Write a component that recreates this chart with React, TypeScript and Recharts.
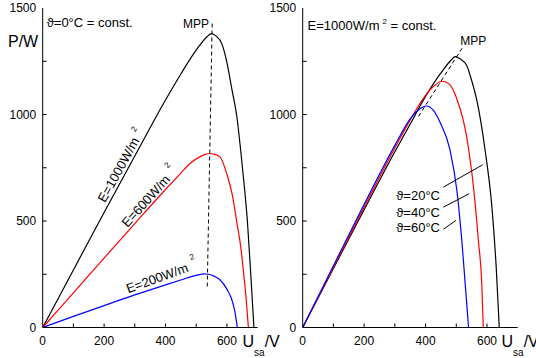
import React from 'react';
import { LineChart, Line, XAxis, YAxis, ReferenceLine, ReferenceDot } from 'recharts';

const FONT = '"Liberation Sans", Arial, Helvetica, sans-serif';

// axis ticks
const xTicks = [0, 100, 200, 300, 400, 500, 600, 700];
const yTicks = [0, 250, 500, 750, 1000, 1250, 1500];

// left panel: cell temperature 0°C, irradiance varies (U in V, P in W)
const uE1000 = [0, 100, 200, 300, 400, 450, 480, 510, 535, 550, 565, 583, 600, 616, 632, 651, 667, 678, 688];
const pE1000 = [0, 270, 540, 805, 1068, 1190, 1260, 1322, 1365, 1380, 1368, 1334, 1245, 1120, 994, 744, 494, 244, 0];
const uE600 = [0, 100, 200, 300, 400, 450, 480, 510, 530, 545, 560, 578, 600, 618, 632, 645, 654, 663, 670];
const pE600 = [0, 163, 326, 488, 648, 725, 770, 800, 813, 817, 813, 800, 720, 620, 497, 380, 262, 130, 0];
const uE200 = [0, 100, 200, 300, 400, 450, 490, 510, 523, 540, 560, 578, 600, 615, 626, 634];
const pE200 = [0, 52, 103, 153, 200, 223, 241, 248, 252, 250, 240, 223, 180, 135, 75, 0];
const mppLeftU = [552, 536];
const mppLeftP = [1427, 188];

// right panel: irradiance 1000 W/m², temperature varies
const uT20 = [0, 100, 200, 300, 350, 400, 450, 480, 496, 512, 534, 550, 567, 594, 616, 630, 640];
const pT20 = [0, 277, 553, 825, 955, 1085, 1195, 1250, 1272, 1262, 1230, 1160, 1066, 831, 566, 284, 0];
const uT40 = [0, 100, 200, 300, 350, 400, 430, 453, 475, 502, 534, 556, 572, 583, 588];
const pT40 = [0, 283, 565, 843, 975, 1090, 1137, 1156, 1145, 1073, 894, 659, 409, 206, 0];
const uT60 = [0, 100, 200, 300, 350, 380, 402, 425, 447, 480, 502, 518, 529, 540];
const pT60 = [0, 290, 578, 855, 980, 1025, 1040, 1020, 964, 831, 644, 409, 206, 0];
const mppRightU = [377, 521];
const mppRightP = [991, 1316];

const irrLabels = ['E=1000W/m', 'E=600W/m', 'E=200W/m'];
const tempLabels = ['ϑ=20°C', 'ϑ=40°C', 'ϑ=60°C'];

const zip = (u: number[], p: number[]) => u.map((v, i) => ({ v, p: p[i] }));
const seg = (u: number[], p: number[]) => [{ x: u[0], y: p[0] }, { x: u[1], y: p[1] }];

const BottomTick = (p: any) => {
  const v = p.payload.value;
  return (
    <g>
      {v > 0 && v < 700 && <line x1={p.x} x2={p.x} y1={p.y} y2={p.y - 4} stroke="#000" />}
      {v % 200 === 0 && (
        <text x={p.x} y={p.y + 17} textAnchor="middle" fontSize={12} fontFamily={FONT} fill="#000">{v}</text>
      )}
    </g>
  );
};
const TopTick = (p: any) => {
  const v = p.payload.value;
  return v > 0 && v < 700 ? <line x1={p.x} x2={p.x} y1={p.y} y2={p.y + 4} stroke="#000" /> : <g />;
};
const LeftTick = (p: any) => {
  const v = p.payload.value;
  return (
    <g>
      {v > 0 && v < 1500 && <line x1={p.x} x2={p.x + 4} y1={p.y} y2={p.y} stroke="#000" />}
      {v % 500 === 0 && (
        <text x={p.x - 6.5} y={p.y + 4.3} textAnchor="end" fontSize={12} fontFamily={FONT} fill="#000">{v}</text>
      )}
    </g>
  );
};
const RightTick = (p: any) => {
  const v = p.payload.value;
  return v > 0 && v < 1500 ? <line x1={p.x} x2={p.x - 4} y1={p.y} y2={p.y} stroke="#000" /> : <g />;
};

// text placed at a data point, optional rotation
const note = (txt: React.ReactNode, opts: { size?: number; anchor?: string; rot?: number; mid?: boolean } = {}) =>
  (p: any) => {
    const { cx, cy } = p;
    return (
      <text
        x={cx}
        y={cy}
        fontSize={opts.size ?? 13}
        fontFamily={FONT}
        fill="#000"
        textAnchor={opts.anchor ?? 'start'}
        dominantBaseline={opts.mid ? 'central' : undefined}
        transform={opts.rot ? `rotate(${opts.rot} ${cx} ${cy})` : undefined}
      >
        {txt}
      </text>
    );
  };

export default function App() {
  const axisStroke = { stroke: '#000' };
  const common = { type: 'number' as const, allowDataOverflow: true, tickSize: 0, tickMargin: 0, tickLine: false, axisLine: axisStroke, interval: 0 as const };
  return (
    <div style={{ position: 'absolute', left: 0, top: 0, width: 536, height: 358, overflow: 'hidden', background: '#fff' }}>
      <div style={{ position: 'absolute', left: 0, top: 0 }}>
        <LineChart width={268} height={358} margin={{ top: 8, right: 10.4, bottom: 0, left: 0 }}>
          <XAxis {...common} dataKey="v" domain={[0, 700]} ticks={xTicks} height={30.5} tick={<BottomTick />} />
          <XAxis {...common} xAxisId="t" orientation="top" dataKey="v" domain={[0, 700]} ticks={xTicks} height={0} tick={<TopTick />} />
          <YAxis {...common} domain={[0, 1500]} ticks={yTicks} width={42.7} tick={<LeftTick />} />
          <YAxis {...common} yAxisId="r" orientation="right" domain={[0, 1500]} ticks={yTicks} width={0} tick={<RightTick />} />
          <Line data={zip(uE1000, pE1000)} dataKey="p" type="monotone" stroke="#000" strokeWidth={1.2} dot={false} isAnimationActive={false} />
          <Line data={zip(uE600, pE600)} dataKey="p" type="monotone" stroke="#ff0000" strokeWidth={1.2} dot={false} isAnimationActive={false} />
          <Line data={zip(uE200, pE200)} dataKey="p" type="monotone" stroke="#0000ff" strokeWidth={1.2} dot={false} isAnimationActive={false} />
          <ReferenceLine segment={seg(mppLeftU, mppLeftP)} stroke="#000" strokeDasharray="4 3" />
          <ReferenceDot x={13} y={1412} shape={note('ϑ=0°C = const.')} />
          <ReferenceDot x={457} y={1407} shape={note('MPP', { size: 12 })} />
          <ReferenceDot x={247} y={741} shape={note(irrLabels[0], { rot: -61, anchor: 'middle', mid: true })} />
          <ReferenceDot x={298} y={931} shape={note('2', { size: 8, rot: -61, anchor: 'middle', mid: true })} />
          <ReferenceDot x={336} y={594} shape={note(irrLabels[1], { rot: -48, anchor: 'middle', mid: true })} />
          <ReferenceDot x={406} y={762} shape={note('2', { size: 8, rot: -48, anchor: 'middle', mid: true })} />
          <ReferenceDot x={373} y={232} shape={note(irrLabels[2], { rot: -20, anchor: 'middle', mid: true })} />
          <ReferenceDot x={486} y={330} shape={note('2', { size: 8, rot: -20, anchor: 'middle', mid: true })} />
        </LineChart>
      </div>
      <div style={{ position: 'absolute', left: 268, top: 0 }}>
        <LineChart width={268} height={358} margin={{ top: 8, right: 18.3, bottom: 0, left: 0 }}>
          <XAxis {...common} dataKey="v" domain={[0, 700]} ticks={xTicks} height={30.5} tick={<BottomTick />} />
          <XAxis {...common} xAxisId="t" orientation="top" dataKey="v" domain={[0, 700]} ticks={xTicks} height={0} tick={<TopTick />} />
          <YAxis {...common} domain={[0, 1500]} ticks={yTicks} width={34.7} tick={<LeftTick />} />
          <YAxis {...common} yAxisId="r" orientation="right" domain={[0, 1500]} ticks={yTicks} width={0} tick={<RightTick />} />
          <Line data={zip(uT20, pT20)} dataKey="p" type="monotone" stroke="#000" strokeWidth={1.2} dot={false} isAnimationActive={false} />
          <Line data={zip(uT40, pT40)} dataKey="p" type="monotone" stroke="#ff0000" strokeWidth={1.2} dot={false} isAnimationActive={false} />
          <Line data={zip(uT60, pT60)} dataKey="p" type="monotone" stroke="#0000ff" strokeWidth={1.2} dot={false} isAnimationActive={false} />
          <ReferenceLine segment={seg(mppRightU, mppRightP)} stroke="#000" strokeDasharray="4 3" />
          <ReferenceLine segment={[{ x: 458, y: 659 }, { x: 586, y: 764 }]} stroke="#000" />
          <ReferenceLine segment={[{ x: 458, y: 565 }, { x: 542, y: 628 }]} stroke="#000" />
          <ReferenceLine segment={[{ x: 458, y: 461 }, { x: 499, y: 503 }]} stroke="#000" />
          <ReferenceDot
            x={16}
            y={1396}
            shape={note(
              <>
                E=1000W/m<tspan dx={3} dy={-6} fontSize={8}>2</tspan>
                <tspan dy={6}> = const.</tspan>
              </>,
            )}
          />
          <ReferenceDot x={513} y={1328} shape={note('MPP', { size: 12 })} />
          <ReferenceDot x={447} y={600} shape={note(tempLabels[0], { anchor: 'end' })} />
          <ReferenceDot x={447} y={518} shape={note(tempLabels[1], { anchor: 'end' })} />
          <ReferenceDot x={447} y={448} shape={note(tempLabels[2], { anchor: 'end' })} />
        </LineChart>
      </div>
      <svg width={536} height={358} style={{ position: 'absolute', left: 0, top: 0, pointerEvents: 'none' }} fontFamily={FONT}>
        <text x={8} y={46.7} fontSize={16}>P/W</text>
        <text x={242.5} y={347} fontSize={16}>
          U<tspan fontSize={10} dy={9}>sa</tspan><tspan dy={-9}>/V</tspan>
        </text>
        <text x={501.5} y={347} fontSize={16}>
          U<tspan fontSize={10} dy={9}>sa</tspan><tspan dy={-9}>/V</tspan>
        </text>
      </svg>
    </div>
  );
}
